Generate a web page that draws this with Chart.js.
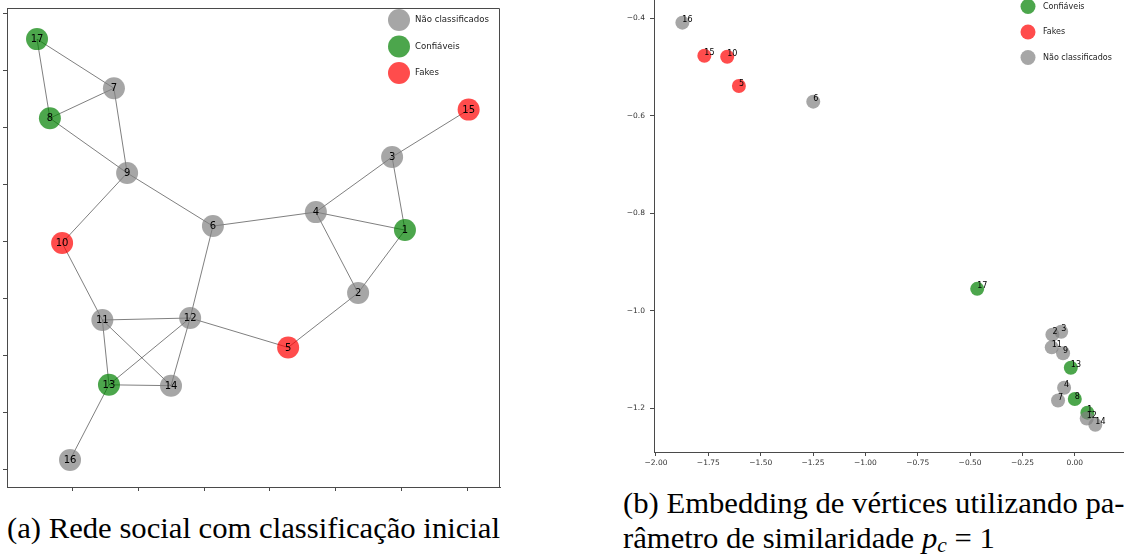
<!DOCTYPE html>
<html>
<head>
<meta charset="utf-8">
<script src="https://cdn.jsdelivr.net/npm/chart.js@4.4.1/dist/chart.umd.min.js"></script>
<style>
  html, body { margin: 0; padding: 0; background: #fff; width: 1124px; height: 559px; overflow: hidden; position: relative; }
  #graph { position: absolute; left: 0; top: 0; }
  #embed { position: absolute; left: 600px; top: 0; }
  .cap { position: absolute; font-family: "Liberation Serif", serif; font-size: 28.7px;
         line-height: 1; color: #000; white-space: nowrap; transform-origin: 0 0; }
  .cap sub { font-size: 0.7em; vertical-align: -0.18em; line-height: 0; }
</style>
</head>
<body>
<canvas id="graph" width="510" height="500"></canvas>
<canvas id="embed" width="524" height="475"></canvas>
<div class="cap" id="capA" style="left:7px; top:514px;">(a) Rede social com classificação inicial</div>
<div class="cap" id="capB1" style="left:623px; top:489px;">(b) Embedding de vértices utilizando pa-</div>
<div class="cap" id="capB2" style="left:623px; top:524px;">râmetro de similaridade <i>p</i><sub><i>c</i></sub> = 1</div>

<script>
// ---- vertices of the social network ----
const nodeIds   = [1, 2, 3, 4, 5, 6, 7, 8, 9, 10, 11, 12, 13, 14, 15, 16, 17];
const nodeClass = ['conf', 'nc', 'nc', 'nc', 'fake', 'nc', 'nc', 'conf', 'nc', 'fake',
                   'nc', 'nc', 'conf', 'nc', 'fake', 'nc', 'conf'];

// layout coordinates used to draw the network (panel a)
const layoutX = [0.409, 0.267, 0.370, 0.139, 0.055, -0.173, -0.473, -0.667, -0.433, -0.630,
                 -0.508, -0.242, -0.488, -0.300, 0.602, -0.606, -0.706];
const layoutY = [0.040, -0.180, 0.296, 0.103, -0.371, 0.054, 0.537, 0.432, 0.240, -0.005,
                 -0.275, -0.268, -0.502, -0.505, 0.462, -0.765, 0.709];

// friendship edges
const edges = [[17, 7], [17, 8], [8, 7], [8, 9], [7, 9], [9, 10], [9, 6], [6, 4], [6, 12],
               [4, 3], [4, 1], [4, 2], [3, 15], [3, 1], [1, 2], [2, 5], [5, 12], [10, 11],
               [11, 12], [11, 13], [11, 14], [12, 13], [12, 14], [13, 14], [13, 16]];

// vertex embedding with similarity parameter p_c = 1 (panel b)
const embX = [0.060, -0.107, -0.065, -0.051, -1.604, -1.249, -0.080, 0.000, -0.056, -1.660,
              -0.110, 0.057, -0.019, 0.098, -1.769, -1.874, -0.466];
const embY = [-1.209, -1.049, -1.043, -1.158, -0.539, -0.571, -1.184, -1.181, -1.087, -0.479,
              -1.075, -1.221, -1.117, -1.234, -0.477, -0.409, -0.955];

// axis ticks
const graphXTicks = [-0.6, -0.4, -0.2, 0, 0.2, 0.4, 0.6];
const graphYTicks = [-0.8, -0.6, -0.4, -0.2, 0, 0.2, 0.4, 0.6, 0.8];
const embXTicks = [-2.0, -1.75, -1.5, -1.25, -1.0, -0.75, -0.5, -0.25, 0.0];
const embYTicks = [-0.4, -0.6, -0.8, -1.0, -1.2];

// classes
const classLabels = { nc: 'Não classificados', conf: 'Confiáveis', fake: 'Fakes' };
const classColors = { nc: 'rgba(128,128,128,0.7)', conf: 'rgba(0,128,0,0.7)', fake: 'rgba(255,0,0,0.7)' };

const FONT = '"DejaVu Sans", sans-serif';
const AXIS = '#4a4a4a';

// ---------- plugins ----------
const nodeLabels = {
  id: 'nodeLabels',
  afterDatasetsDraw(chart, args, opts) {
    const ctx = chart.ctx;
    ctx.save();
    ctx.font = opts.font;
    ctx.fillStyle = opts.color;
    ctx.textAlign = opts.align;
    ctx.textBaseline = opts.baseline;
    chart.data.datasets.forEach((ds, i) => {
      if (!ds.nodes) return;
      chart.getDatasetMeta(i).data.forEach((el, j) => {
        ctx.fillText(String(ds.data[j].id), el.x + opts.dx, el.y + opts.dy);
      });
    });
    ctx.restore();
  }
};

const dotLegend = {
  id: 'dotLegend',
  afterDraw(chart, args, opts) {
    const ctx = chart.ctx;
    ctx.save();
    ctx.font = opts.font;
    ctx.textAlign = 'left';
    ctx.textBaseline = 'middle';
    opts.items.forEach((key, k) => {
      const y = opts.y + k * opts.dy;
      ctx.beginPath();
      ctx.arc(opts.x, y, opts.r, 0, Math.PI * 2);
      ctx.fillStyle = classColors[key];
      ctx.fill();
      ctx.fillStyle = opts.color;
      ctx.fillText(classLabels[key], opts.textX, y);
    });
    ctx.restore();
  }
};

const boxFrame = {
  id: 'boxFrame',
  afterDraw(chart, args, opts) {
    if (!opts.enabled) return;
    const { left, right, top, bottom } = chart.chartArea;
    const ctx = chart.ctx;
    ctx.save();
    ctx.strokeStyle = opts.color;
    ctx.lineWidth = 1;
    ctx.beginPath();
    ctx.moveTo(Math.round(left) + 0.5, Math.round(top) + 0.5);
    ctx.lineTo(Math.round(right) - 0.5, Math.round(top) + 0.5);
    ctx.lineTo(Math.round(right) - 0.5, Math.round(bottom) + 0.5);
    ctx.stroke();
    ctx.restore();
  }
};

function fixedTicks(values) {
  return (scale) => { scale.ticks = values.map(v => ({ value: v })); };
}
function fixedSize(prop, size) {
  return (scale) => {
    scale[prop] = size;
    scale.paddingTop = scale.paddingBottom = scale.paddingLeft = scale.paddingRight = 0;
  };
}
const minus = (s) => s.replace('-', '\u2212');

// ---------- panel (a): social network ----------
function nodesOf(cls, xs, ys) {
  const pts = [];
  nodeIds.forEach((id, i) => {
    if (nodeClass[i] === cls) pts.push({ x: xs[i], y: ys[i], id });
  });
  return pts;
}

const graphDatasets = [];
['fake', 'conf', 'nc'].forEach((cls, k) => {
  graphDatasets.push({
    label: classLabels[cls],
    nodes: true,
    data: nodesOf(cls, layoutX, layoutY),
    backgroundColor: classColors[cls],
    borderWidth: 0,
    pointRadius: 11,
    pointHoverRadius: 11,
    order: k
  });
});
edges.forEach(([a, b]) => {
  const ia = nodeIds.indexOf(a), ib = nodeIds.indexOf(b);
  graphDatasets.push({
    data: [{ x: layoutX[ia], y: layoutY[ia] }, { x: layoutX[ib], y: layoutY[ib] }],
    showLine: true,
    borderColor: 'rgba(0,0,0,0.5)',
    borderWidth: 1,
    pointRadius: 0,
    pointHoverRadius: 0,
    order: 10
  });
});

new Chart(document.getElementById('graph'), {
  type: 'scatter',
  data: { datasets: graphDatasets },
  options: {
    responsive: false,
    animation: false,
    events: [],
    layout: { autoPadding: false, padding: { top: 8, right: 10, left: 0, bottom: 0 } },
    scales: {
      x: {
        type: 'linear', min: -0.797, max: 0.697,
        afterBuildTicks: fixedTicks(graphXTicks),
        afterFit: fixedSize('height', 13),
        ticks: { display: false },
        grid: { display: true, drawOnChartArea: false, drawTicks: true, tickLength: 4, color: AXIS },
        border: { display: true, color: AXIS, width: 1 }
      },
      y: {
        type: 'linear', min: -0.86, max: 0.818,
        afterBuildTicks: fixedTicks(graphYTicks),
        afterFit: fixedSize('width', 7),
        ticks: { display: false },
        grid: { display: true, drawOnChartArea: false, drawTicks: true, tickLength: 4, color: AXIS },
        border: { display: true, color: AXIS, width: 1 }
      }
    },
    plugins: {
      legend: { display: false },
      tooltip: { enabled: false },
      nodeLabels: { font: '10px ' + FONT, color: '#000', align: 'center', baseline: 'middle', dx: 0, dy: 0.5 },
      dotLegend: { items: ['nc', 'conf', 'fake'], x: 399, y: 20, dy: 26.5, r: 11, textX: 415,
                   font: '8.6px ' + FONT, color: '#222' },
      boxFrame: { enabled: true, color: AXIS }
    }
  },
  plugins: [nodeLabels, dotLegend, boxFrame]
});

// ---------- panel (b): embedding ----------
const embDatasets = ['nc', 'fake', 'conf'].map((cls, k) => ({
  label: classLabels[cls],
  nodes: true,
  data: nodesOf(cls, embX, embY),
  backgroundColor: classColors[cls],
  borderWidth: 0,
  pointRadius: 7,
  pointHoverRadius: 7,
  order: k
}));

new Chart(document.getElementById('embed'), {
  type: 'scatter',
  data: { datasets: embDatasets },
  options: {
    responsive: false,
    animation: false,
    events: [],
    layout: { autoPadding: false, padding: 0 },
    scales: {
      x: {
        type: 'linear', min: -2.0095, max: 0.235,
        afterBuildTicks: fixedTicks(embXTicks),
        afterFit: fixedSize('height', 23),
        ticks: { padding: 3, color: '#333', font: { family: FONT, size: 7.5 },
                 callback: (v) => minus(Number(v).toFixed(2)), maxRotation: 0, autoSkip: false },
        grid: { display: true, drawOnChartArea: false, drawTicks: true, tickLength: 4, color: AXIS },
        border: { display: true, color: AXIS, width: 1 }
      },
      y: {
        type: 'linear', min: -1.2897, max: -0.3625,
        afterBuildTicks: fixedTicks(embYTicks),
        afterFit: fixedSize('width', 54),
        ticks: { padding: 5, color: '#333', font: { family: FONT, size: 7.5 },
                 callback: (v) => minus(Number(v).toFixed(1)), autoSkip: false },
        grid: { display: true, drawOnChartArea: false, drawTicks: true, tickLength: 4, color: AXIS },
        border: { display: true, color: AXIS, width: 1 }
      }
    },
    plugins: {
      legend: { display: false },
      tooltip: { enabled: false },
      nodeLabels: { font: '8px ' + FONT, color: '#000', align: 'left', baseline: 'alphabetic', dx: 0, dy: -0.5 },
      dotLegend: { items: ['conf', 'fake', 'nc'], x: 428, y: 6.5, dy: 25.5, r: 7.5, textX: 443,
                   font: '8px ' + FONT, color: '#222' },
      boxFrame: { enabled: false }
    }
  },
  plugins: [nodeLabels, dotLegend, boxFrame]
});

// ---------- captions: stretch the serif text to the caption width ----------
function fitCaptions() {
  const ids = ['capA', 'capB1', 'capB2'];
  const a = document.getElementById('capA');
  a.style.transform = 'none';
  const s = 493 / a.getBoundingClientRect().width;
  ids.forEach(id => { document.getElementById(id).style.transform = 'scaleX(' + s + ')'; });
}
fitCaptions();
if (document.fonts && document.fonts.ready) document.fonts.ready.then(fitCaptions);
</script>
</body>
</html>
